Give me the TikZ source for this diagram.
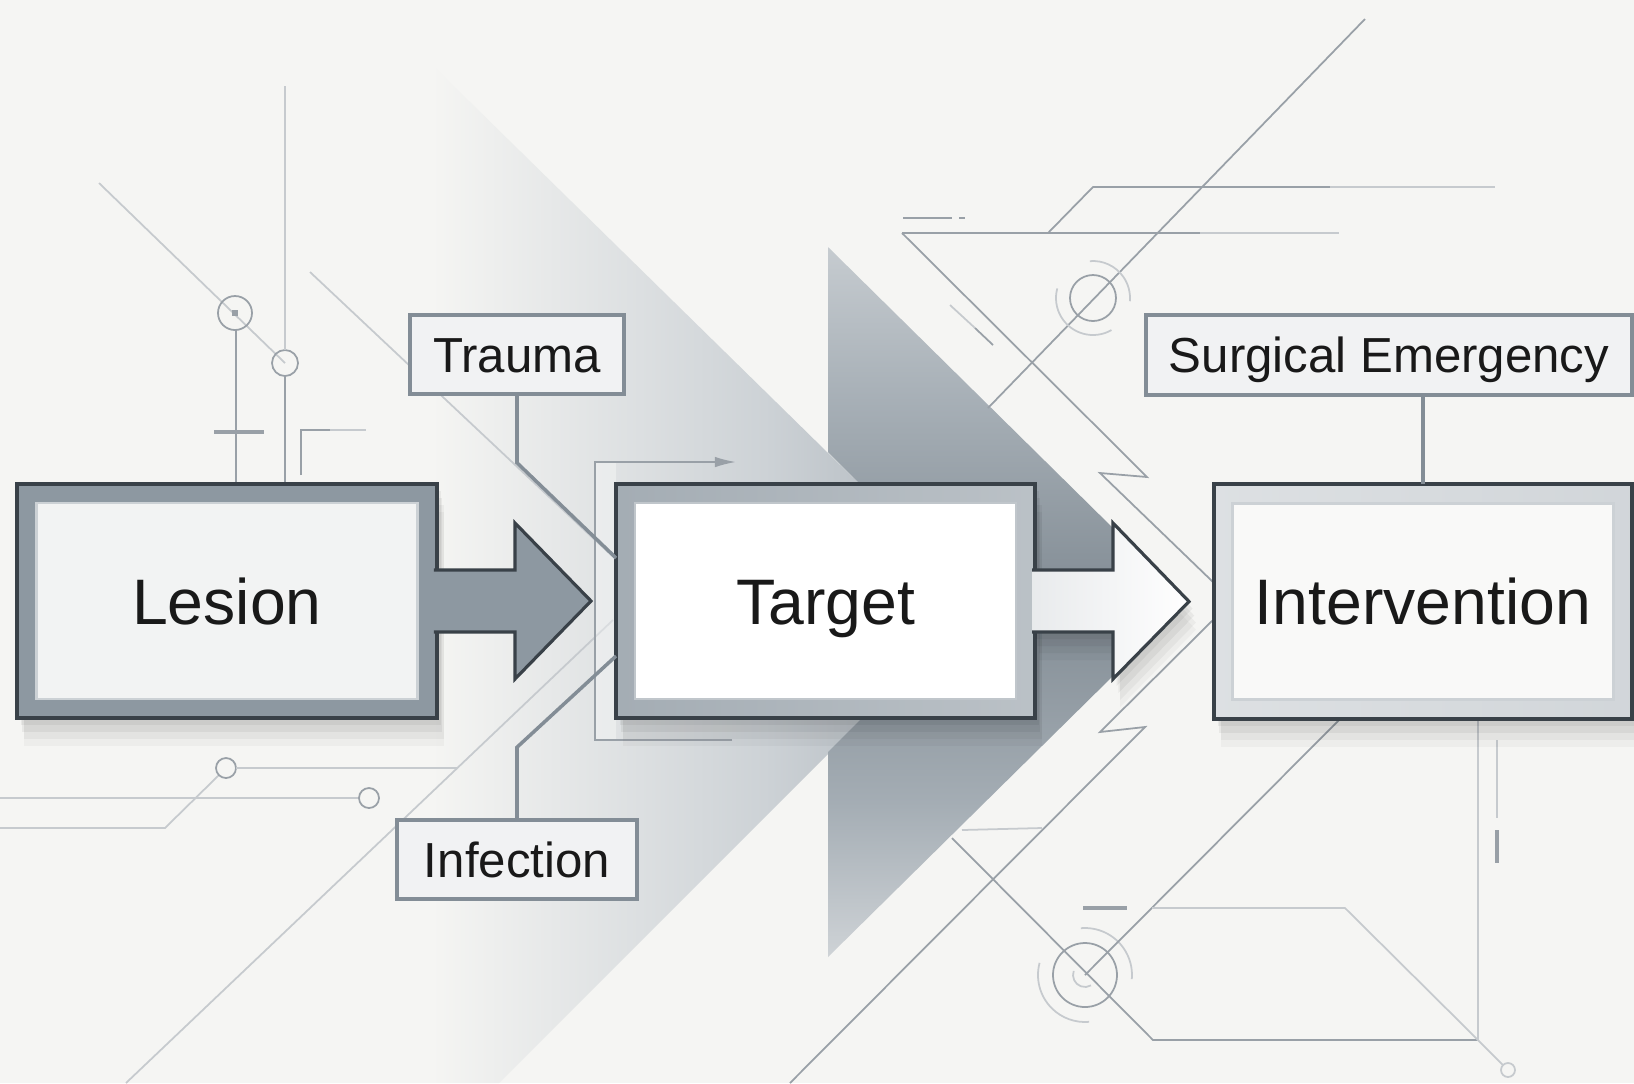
\documentclass[tikz,border=0pt]{standalone}
\usepackage{fontspec}
\setmainfont{Liberation Sans}
\usetikzlibrary{calc,arrows.meta,shadows}

\definecolor{bgc}{HTML}{F5F5F3}
\definecolor{wirec}{HTML}{99A0A7}
\definecolor{wirelt}{HTML}{C6CACE}
\definecolor{edgec}{HTML}{394148}
\definecolor{steel}{HTML}{8D98A1}
\definecolor{labelc}{HTML}{F1F2F3}
\definecolor{labeledge}{HTML}{838D96}
\definecolor{bandmid}{HTML}{CDD2D6}
\definecolor{banddark}{HTML}{A9B1B8}

% 浅色斜带的横向渐变
\pgfdeclarehorizontalshading{bandshade}{100bp}{color(0bp)=(bgc); color(25bp)=(bgc);
  color(47bp)=(bgc); color(64bp)=(bandmid); color(75bp)=(banddark); color(100bp)=(banddark)}
% 深色大箭头的竖向渐变
\pgfdeclareverticalshading{chevshade}{100bp}{color(0bp)=(black!2!white!60!steel);
  color(25bp)=(black!2!white!60!steel); color(36bp)=(steel!80!white); color(50bp)=(steel!92!black);
  color(64bp)=(steel!78!white); color(75bp)=(steel!50!white); color(100bp)=(steel!50!white)}

% 块状箭头: #1 起点框, #2 终点框, #3 样式
\newcommand{\blockarrow}[3]{%
  \draw[#3] ($(#1.east)+(-3,-31)$) -- ++(81,0) -- ++(0,-47) -- ($(#2.west)+(-25,0)$)
    -- ($(#1.east)+(78,78)$) -- ++(0,-47) -- ($(#1.east)+(-3,31)$);}

\tikzset{
  softshadow/.style={
    general shadow={fill=black, opacity=0.05, shadow xshift=1pt, shadow yshift=-2pt},
    general shadow={fill=black, opacity=0.05, shadow xshift=1.5pt, shadow yshift=-4pt},
    general shadow={fill=black, opacity=0.04, shadow xshift=2pt, shadow yshift=-6pt},
    general shadow={fill=black, opacity=0.03, shadow xshift=2pt, shadow yshift=-8pt}},
  boxframe/.style={draw=edgec, line width=0.9pt, minimum width=4.2cm, minimum height=2.34cm,
    inner sep=0pt, outer sep=0pt, softshadow},
  panel/.style={minimum width=3.81cm, minimum height=1.96cm, inner sep=0pt, line width=0.8pt,
    font=\fontsize{18.3pt}{20pt}\selectfont, text height=13.1pt, text depth=0pt, text=black!90},
  tag/.style={draw=labeledge, fill=labelc, line width=1pt, minimum height=0.79cm, inner sep=0pt,
    font=\fontsize{14pt}{16pt}\selectfont, text height=10pt, text depth=0pt, text=black!90},
  wire/.style={draw=wirec, line width=0.5pt},
  faint/.style={draw=wirelt, line width=0.5pt},
  link/.style={draw=labeledge, line width=1pt},
}

\begin{document}
\begin{tikzpicture}[x=0.1mm, y=-0.1mm]
    % 背景
    \fill[bgc] (0,0) rectangle (1634,1083);
    \useasboundingbox (0,0) rectangle (1634,1083);

    % 浅色斜带
    \shade[shading=bandshade] (0,0) -- (366,0) -- (980,602) -- (499,1083) -- (0,1083) -- cycle;
    % 深色大箭头
    \shade[shading=chevshade]
        (828,247) -- (1188,602) -- (828,957) -- (828,752) -- (978,602) -- (828,452) -- cycle;

    % 左上线路
    \draw[faint] (99,183) -- (285,363);
    \draw[wire] (235,313) circle[radius=17];
    \fill[wirec] (232,310) rectangle (238,316);
    \draw[wire] (285,363) circle[radius=13];
    \draw[wire] (236,330) -- (236,484);
    \draw[faint] (285,86) -- (285,350);
    \draw[wire] (285,376) -- (285,484);
    \draw[wirec, line width=1.3pt] (214,432) -- (264,432);
    \draw[wire] (301,475) -- (301,430) -- (330,430);
    \draw[faint] (330,430) -- (366,430);
    \draw[faint] (310,272) -- (612,556);

    % 左下线路
    \draw[faint] (0,828) -- (165,828) -- (219,775);
    \draw[wire] (226,768) circle[radius=10];
    \draw[faint] (236,768) -- (458,768);
    \draw[faint] (0,798) -- (359,798);
    \draw[wire] (369,798) circle[radius=10];
    \draw[faint] (613,620) -- (126,1083);

    % Target 左侧括线
    \fill[white, opacity=0.35] (595,462) rectangle (616,740);
    \draw[wire, -{Latex[length=6pt, width=3pt]}] (732,740) -- (595,740) -- (595,462) -- (736,462);

    % 右上线路
    \draw[wire] (903,218) -- (952,218);
    \draw[wire] (959,218) -- (965,218);
    \draw[wire] (902,233) -- (1200,233);
    \draw[faint] (1200,233) -- (1339,233);
    \draw[wire] (1048,233) -- (1093,187) -- (1330,187);
    \draw[faint] (1330,187) -- (1495,187);
    \draw[wire] (1365,19) -- (988,408);
    \draw[wire] (1093,298) circle[radius=23];
    \draw[faint] ($(1093,298)+(-95:37)$) arc[start angle=-95, end angle=5, radius=37];
    \draw[faint] ($(1093,298)+(-165:37)$) arc[start angle=-165, end angle=-300, radius=37];
    \draw[faint] (950,305) -- (975,328);
    \draw[wire] (975,328) -- (993,345);
    \draw[wire] (902,233) -- (1147,477) -- (1100,473) -- (1213,582);

    % 右下线路
    \draw[wire] (1215,618) -- (1100,732) -- (1145,727) -- (790,1083);
    \draw[faint] (962,830) -- (1042,828);
    \draw[wire] (952,838) -- (1153,1040) -- (1478,1040);
    \draw[wire] (1085,975) circle[radius=32];
    \draw[faint] ($(1085,975)+(-95:47)$) arc[start angle=-95, end angle=5, radius=47];
    \draw[faint] ($(1085,975)+(-165:47)$) arc[start angle=-165, end angle=-275, radius=47];
    \draw[faint] ($(1085,975)+(-160:12)$) arc[start angle=-160, end angle=-300, radius=12];
    \draw[wire] (1085,975) -- (1340,719);
    \draw[wirec, line width=1.2pt] (1083,908) -- (1127,908);
    \draw[faint] (1152,908) -- (1345,908) -- (1478,1040) -- (1503,1065);
    \draw[faint] (1508,1070) circle[radius=7];
    \draw[faint] (1478,720) -- (1478,1040);
    \draw[faint] (1497,740) -- (1497,818);
    \draw[wirec, line width=1pt] (1497,830) -- (1497,863);

    % 三个主框
    \node[boxframe, fill=steel] (lesionbox) at (227,601) {};
    \node[panel, fill=black!3!white!95!steel, draw=steel!45!white] (lesion) at (lesionbox) {Lesion};

    \node[boxframe, minimum width=4.19cm, left color=steel!80!white, middle color=black!2!white!90!steel,
        right color=steel!60!white] (targetbox) at (825.5,601) {};
    \node[panel, fill=white, draw=steel!55!white] (target) at (targetbox) {Target};

    \node[boxframe, minimum width=4.18cm, minimum height=2.35cm, left color=steel!30!white,
        middle color=black!1!white!94!steel, right color=steel!40!white] (intervbox) at (1423,601.5) {};
    \node[panel, fill=bgc!60!white, draw=steel!45!white] (interv) at (intervbox) {Intervention};

    % 框间箭头
    \blockarrow{lesionbox}{targetbox}{fill=steel, draw=edgec, line width=0.9pt}
    \blockarrow{targetbox}{intervbox}{left color=steel!20!white, right color=white, draw=edgec,
        line width=0.9pt, softshadow}

    % 标签
    \node[tag, minimum width=2.14cm] (trauma) at (517,354.5) {Trauma};
    \node[tag, minimum width=2.40cm] (infect) at (517,859.5) {Infection};
    \node[tag, minimum width=4.86cm, minimum height=0.80cm] (surg) at (1389,355) {Surgical Emergency};

    \draw[link] (trauma.south) -- ++(0,67) -- ($(targetbox.west)+(0,-43)$);
    \draw[link] (infect.north) -- ++(0,-71) -- ($(targetbox.west)+(0,55)$);
    \draw[link] (surg.south -| intervbox.north) -- (intervbox.north);
\end{tikzpicture}
\end{document}
